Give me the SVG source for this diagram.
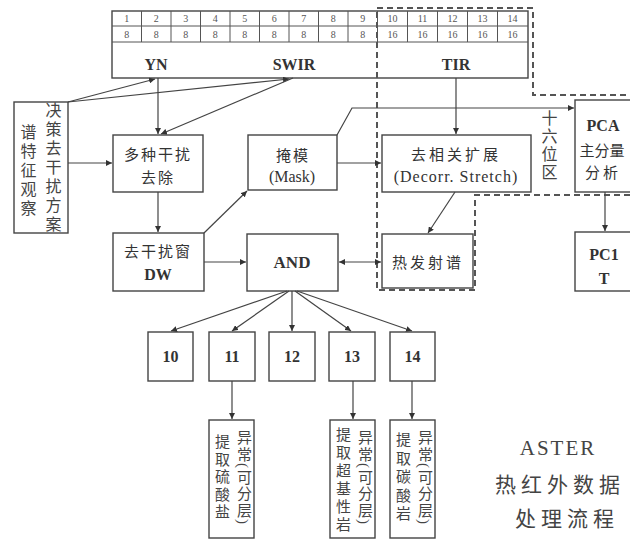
<svg xmlns="http://www.w3.org/2000/svg" width="630" height="541" viewBox="0 0 630 541">
<style>
.b{fill:#fff;stroke:#444;stroke-width:1.4}
.n{fill:none;stroke:#444;stroke-width:1.4}
.g{fill:none;stroke:#555;stroke-width:1}
.l{fill:none;stroke:#444;stroke-width:1.2}
.d{fill:none;stroke:#555;stroke-width:2;stroke-dasharray:6 4}
.t{font-family:"Liberation Serif","Noto Sans CJK SC",serif;fill:#333;text-anchor:middle}
.s{font-size:10px;fill:#555}
.k{font-size:16px;font-weight:bold}
.z{font-size:15px;letter-spacing:2px}
.v{font-family:"Liberation Serif","Noto Sans CJK SC",serif;fill:#444;writing-mode:vertical-rl;font-size:15px}
</style>
<defs>
<marker id="a" viewBox="0 0 8 8" refX="8" refY="4" markerWidth="5" markerHeight="5" orient="auto-start-reverse"><path d="M0,0L8,4L0,8z" fill="#333"/></marker>
</defs>
<rect width="630" height="541" fill="#fff"/>

<g id="table">
<rect class="n" x="112" y="11" width="416" height="67"/>
<path class="g" d="M112,26H528M112,42H528"/>
<path class="g" d="M141.5,11V42M171,11V42M200.5,11V42M230,11V42M259.5,11V42M289,11V42M318.5,11V42M348,11V42M377.5,11V42M407.5,11V42M437.5,11V42M467.5,11V42M497.5,11V42"/>
<g class="t s">
<text x="126.8" y="22">1</text><text x="156.3" y="22">2</text><text x="185.8" y="22">3</text><text x="215.3" y="22">4</text><text x="244.8" y="22">5</text><text x="274.3" y="22">6</text><text x="303.8" y="22">7</text><text x="333.3" y="22">8</text><text x="362.8" y="22">9</text>
<text x="392.5" y="22">10</text><text x="422.5" y="22">11</text><text x="452.5" y="22">12</text><text x="482.5" y="22">13</text><text x="512.5" y="22">14</text>
<text x="126.8" y="38">8</text><text x="156.3" y="38">8</text><text x="185.8" y="38">8</text><text x="215.3" y="38">8</text><text x="244.8" y="38">8</text><text x="274.3" y="38">8</text><text x="303.8" y="38">8</text><text x="333.3" y="38">8</text><text x="362.8" y="38">8</text>
<text x="392.5" y="38">16</text><text x="422.5" y="38">16</text><text x="452.5" y="38">16</text><text x="482.5" y="38">16</text><text x="512.5" y="38">16</text>
</g>
<g class="t k">
<text x="156" y="70">YN</text><text x="294" y="70">SWIR</text><text x="456" y="70">TIR</text>
</g>
</g>

<g id="region16">
<path class="d" d="M377,8H533V95H630M630,195H475V290H377V8"/>
<text class="v" x="548" y="110" style="font-size:16px;letter-spacing:2px">十六位区</text>
</g>

<g id="observe">
<rect class="b" x="14" y="102" width="54" height="131"/>
<text class="v" x="27" y="124" style="font-size:16px;letter-spacing:3px">谱特征观察</text>
<text class="v" x="52" y="102" style="font-size:16px;letter-spacing:3px">决策去干扰方案</text>
</g>

<g id="remove">
<rect class="b" x="113" y="135" width="90" height="57"/>
<text class="t z" x="158" y="160">多种干扰</text>
<text class="t z" x="158" y="183">去除</text>
</g>

<g id="mask">
<rect class="b" x="248" y="135" width="89" height="55"/>
<text class="t z" x="293" y="161">掩模</text>
<text class="t" x="292" y="182" style="font-size:16px">(Mask)</text>
</g>

<g id="decorr">
<rect class="b" x="382" y="135" width="149" height="57"/>
<text class="t z" x="456" y="160" style="letter-spacing:3px">去相关扩展</text>
<text class="t" x="456" y="182" style="font-size:16px;letter-spacing:1px">(Decorr. Stretch)</text>
</g>

<g id="pca">
<rect class="b" x="575" y="100" width="70" height="92"/>
<text class="t k" x="603" y="131">PCA</text>
<text class="t" x="602" y="156" style="font-size:15px">主分量</text>
<text class="t z" x="603" y="178" style="letter-spacing:3px">分析</text>
</g>

<g id="pc1">
<rect class="b" x="575" y="232" width="70" height="59"/>
<text class="t k" x="604" y="260">PC1</text>
<text class="t k" x="604" y="284">T</text>
</g>

<g id="dw">
<rect class="b" x="113" y="233" width="91" height="58"/>
<text class="t z" x="158" y="257">去干扰窗</text>
<text class="t k" x="158" y="280">DW</text>
</g>

<g id="and">
<rect class="b" x="247" y="234" width="91" height="57"/>
<text class="t k" x="292" y="268" style="font-size:17px">AND</text>
</g>

<g id="thermal">
<rect class="b" x="382" y="234" width="91" height="54"/>
<text class="t z" x="428" y="268" style="letter-spacing:3px">热发射谱</text>
</g>

<g id="n10"><rect class="b" x="148" y="332" width="45" height="49"/><text class="t k" x="170.5" y="362">10</text></g>
<g id="n11"><rect class="b" x="209" y="332" width="46" height="49"/><text class="t k" x="232" y="362">11</text></g>
<g id="n12"><rect class="b" x="269" y="332" width="46" height="49"/><text class="t k" x="292" y="362">12</text></g>
<g id="n13"><rect class="b" x="329" y="332" width="46" height="49"/><text class="t k" x="352" y="362">13</text></g>
<g id="n14"><rect class="b" x="390" y="332" width="45" height="49"/><text class="t k" x="412.5" y="362">14</text></g>

<g id="r11">
<rect class="b" x="209" y="420" width="45" height="118"/>
<text class="v" x="243" y="430" style="letter-spacing:1.5px">异常(可分层)</text>
<text class="v" x="221" y="434" style="letter-spacing:2.5px">提取硫酸盐</text>
</g>
<g id="r13">
<rect class="b" x="330" y="420" width="45" height="118"/>
<text class="v" x="364" y="430" style="letter-spacing:1.5px">异常(可分层)</text>
<text class="v" x="342" y="427" style="letter-spacing:3px">提取超基性岩</text>
</g>
<g id="r14">
<rect class="b" x="390" y="420" width="45" height="118"/>
<text class="v" x="424" y="430" style="letter-spacing:1.5px">异常(可分层)</text>
<text class="v" x="402" y="432" style="letter-spacing:3.5px">提取碳酸岩</text>
</g>

<g id="title" class="t" style="fill:#444">
<text x="558" y="455" style="font-size:21px;letter-spacing:2px">ASTER</text>
<text x="560" y="492" style="font-size:21px;letter-spacing:5px">热红外数据</text>
<text x="567" y="526" style="font-size:21px;letter-spacing:5px">处理流程</text>
</g>

<g id="connectors" class="l" marker-end="url(#a)">
<path d="M68,102L155,79"/>
<path d="M68,102L289,79"/>
<path d="M158,78V134"/>
<path d="M293,78L161,134"/>
<path d="M68,163H112"/>
<path d="M158,192V232"/>
<path d="M204,233L247,191"/>
<path d="M204,262H246"/>
<path d="M337,135L352,108H574"/>
<path d="M337,163H381"/>
<path d="M456,78V134"/>
<path d="M455,192L428,233"/>
<path d="M339,262H381" marker-start="url(#a)"/>
<path d="M605,192V231"/>
<path d="M287,291L171,331"/>
<path d="M289,291L232,331"/>
<path d="M292,291V331"/>
<path d="M295,291L351,331"/>
<path d="M297,291L412,331"/>
<path d="M232,381V419"/>
<path d="M353,381V419"/>
<path d="M412,381V419"/>
</g>
</svg>
